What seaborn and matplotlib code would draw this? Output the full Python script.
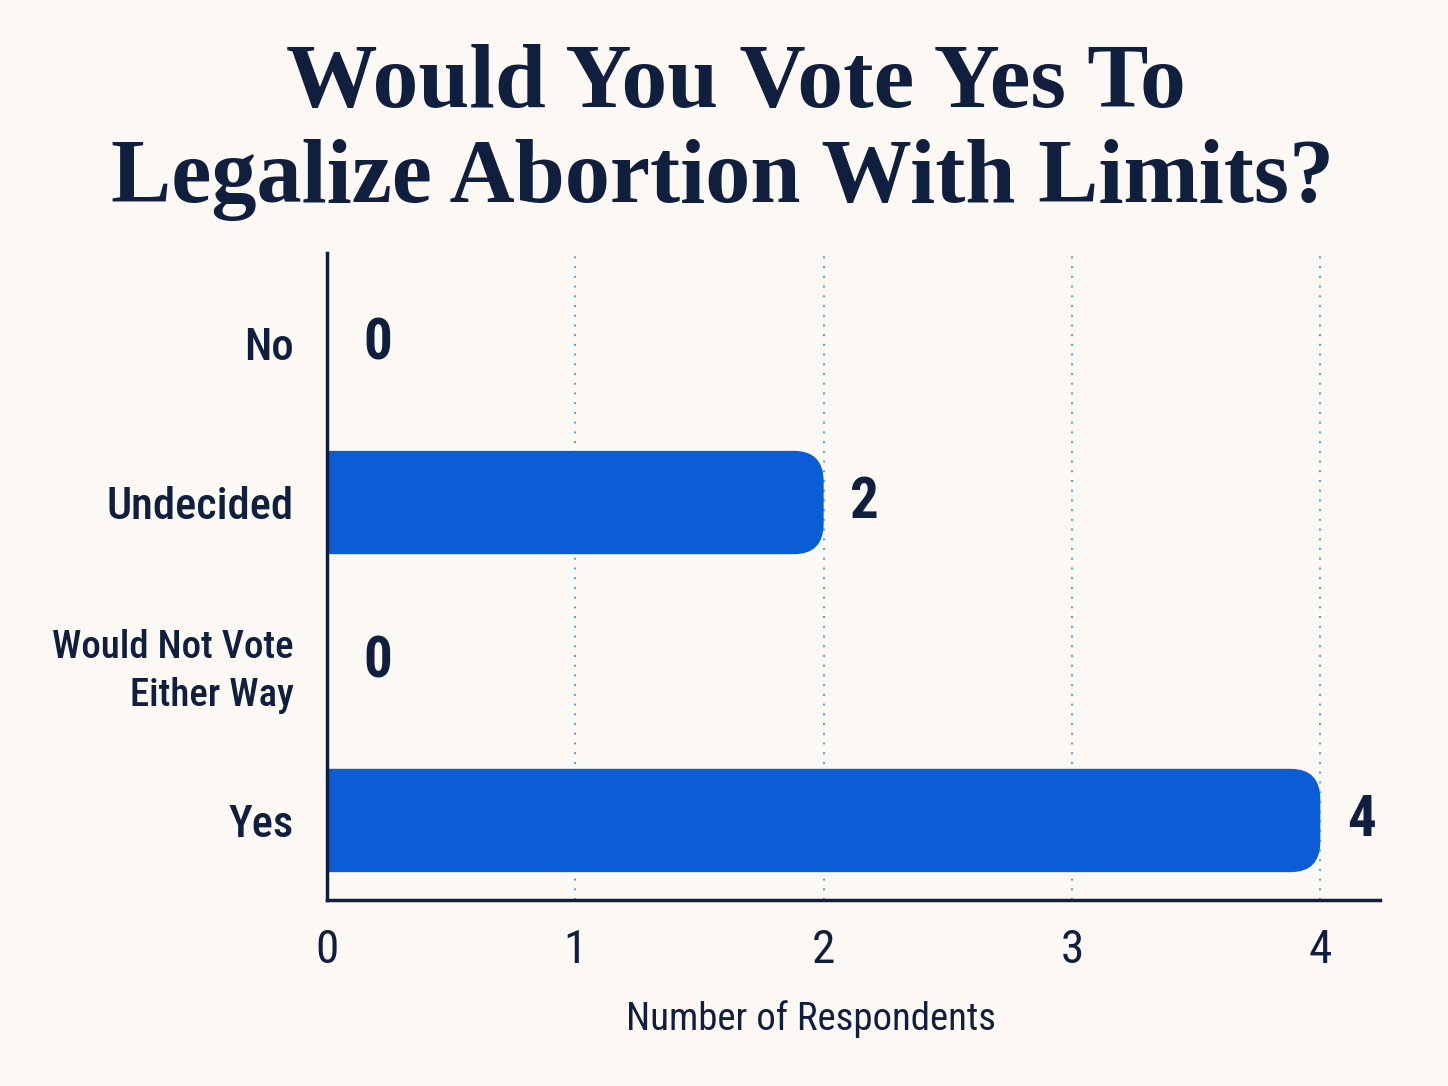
import matplotlib
matplotlib.use("Agg")
import matplotlib.pyplot as plt
from matplotlib import font_manager as fm
import seaborn as sns
import pandas as pd
from matplotlib.patches import FancyBboxPatch

# data
categories = ["No", "Undecided", "Would Not Vote\nEither Way", "Yes"]
counts = [0, 2, 0, 4]
x_ticks = [0, 1, 2, 3, 4]

BG = "#fcf9f4"
NAVY = "#0f1f3d"
BLUE = "#0b5dd6"
GRID = "#45a0ee"

sns.set_theme(style="white")

# pick a narrow sans if one is installed
installed = {f.name for f in fm.fontManager.ttflist}
narrow = None
for cand in ["Roboto Condensed", "Liberation Sans Narrow", "Open Sans Condensed",
             "Noto Sans Condensed", "DejaVu Sans Condensed"]:
    if cand in installed:
        narrow = cand
        break
if narrow:
    plt.rcParams["font.family"] = [narrow, "DejaVu Sans"]
else:
    plt.rcParams["font.family"] = ["DejaVu Sans"]
    plt.rcParams["font.stretch"] = "condensed"

df = pd.DataFrame({"Response": categories, "Count": counts})

fig = plt.figure(figsize=(14.48, 10.86), dpi=100, facecolor=BG)
ax = fig.add_axes([0.2258, 0.1713, 0.7272, 0.5958])
ax.set_facecolor(BG)

sns.barplot(data=df, y="Response", x="Count", color=BLUE, orient="h",
            width=0.65, ax=ax, zorder=3)

# swap plain bars for ones with rounded right ends
for p in list(ax.patches):
    x0, y0, w, h = p.get_x(), p.get_y(), p.get_width(), p.get_height()
    p.remove()
    if w <= 0:
        continue
    fb = FancyBboxPatch((x0 - 0.3, y0), w + 0.3, h,
                        boxstyle="round,pad=0,rounding_size=0.12",
                        mutation_aspect=1.6, facecolor=BLUE, edgecolor="none",
                        zorder=3, clip_on=True)
    ax.add_patch(fb)

ax.set_xlim(0, 4.24)
ax.set_ylim(3.5, -0.57)
ax.set_xticks(x_ticks)
ax.xaxis.grid(True, color=GRID, linestyle=(0, (1, 4)), linewidth=1.4, zorder=0)
ax.yaxis.grid(False)

for s in ["top", "right"]:
    ax.spines[s].set_visible(False)
for s in ["left", "bottom"]:
    ax.spines[s].set_color(NAVY)
    ax.spines[s].set_linewidth(2.5)
ax.spines["left"].set_zorder(5)

ax.tick_params(axis="y", length=0, pad=24, labelsize=32, labelcolor=NAVY)
ax.tick_params(axis="x", length=0, pad=20, labelsize=34, labelcolor=NAVY)
for lab in ax.get_yticklabels():
    lab.set_fontweight("medium")
    if "\n" in lab.get_text():
        # the two-line label is set a touch smaller
        lab.set_fontsize(28)
        lab.set_linespacing(1.4)
ax.set_ylabel("")
ax.set_xlabel("Number of Respondents", fontsize=28, color=NAVY)
ax.xaxis.set_label_coords(0.46, -0.155)

for i, v in enumerate(counts):
    ax.annotate(str(v), (v, i), xytext=(19 if v else 26, 0), textcoords="offset points",
                ha="left", va="center", fontsize=41, fontweight="bold", color=NAVY)

fig.text(0.508, 0.9015, "Would You Vote Yes To", ha="center", va="baseline",
         fontsize=66, fontweight="bold", color=NAVY, family="Liberation Serif")
fig.text(0.499, 0.814, "Legalize Abortion With Limits?", ha="center", va="baseline",
         fontsize=65, fontweight="bold", color=NAVY, family="Liberation Serif")

fig.savefig("out.png", dpi=100, facecolor=BG)
